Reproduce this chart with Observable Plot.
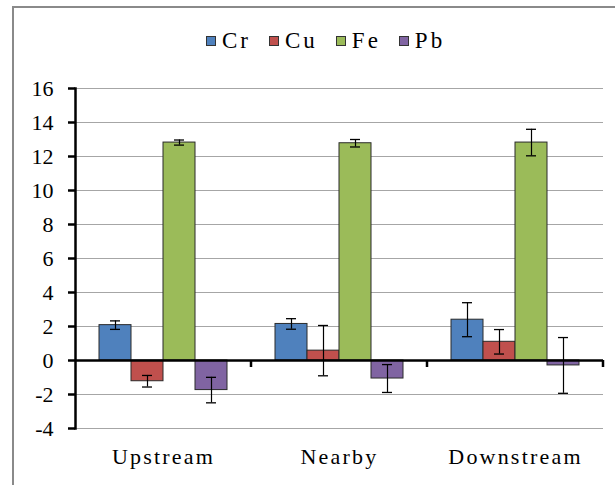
<!DOCTYPE html>
<html>
<head>
<meta charset="utf-8">
<script src="https://cdn.jsdelivr.net/npm/d3@7"></script>
<script src="https://cdn.jsdelivr.net/npm/@observablehq/plot@0.6"></script>
<style>
  html, body { margin: 0; padding: 0; background: #fff; overflow: hidden; }
  #figure { position: relative; width: 615px; height: 485px; overflow: hidden; font-family: "Liberation Serif", "Times New Roman", serif; }
  #border { position: absolute; left: 12px; top: 6px; width: 800px; height: 800px; border-top: 2px solid #8a8a8a; border-left: 2px solid #8a8a8a; box-sizing: border-box; }
  #legend { position: absolute; left: 206px; top: 29px; display: flex; align-items: center; font-size: 23px; line-height: 24px; letter-spacing: 3px; color: #000; z-index: 2; white-space: nowrap; }
  #legend .item { display: flex; align-items: center; margin-right: 18px; }
  #legend .swatch { width: 10px; height: 10px; border: 1px solid #333; box-sizing: border-box; margin-right: 6px; }
  #chart { position: absolute; left: 0; top: 0; z-index: 1; }
  #chart [aria-label="fx-axis tick label"] text { letter-spacing: 2.2px; }
</style>
</head>
<body>
<div id="figure">
  <div id="border"></div>
  <div id="legend"></div>
  <div id="chart"></div>
</div>
<script>
// Sampling sites and metals
const locations = ["Upstream", "Nearby", "Downstream"];
const metals = ["Cr", "Cu", "Fe", "Pb"];
const metalColors = ["#4f81bd", "#c0504d", "#9bbb59", "#8064a2"];

// Mean values per site (Upstream, Nearby, Downstream)
const crValues = [2.08, 2.15, 2.40];
const cuValues = [-1.22, 0.58, 1.10];
const feValues = [12.82, 12.78, 12.82];
const pbValues = [-1.74, -1.06, -0.29];

// Error-bar half widths per site
const crErrors = [0.25, 0.31, 1.00];
const cuErrors = [0.34, 1.48, 0.72];
const feErrors = [0.15, 0.22, 0.78];
const pbErrors = [0.75, 0.82, 1.64];

// Y axis ticks
const yTicks = [-4, -2, 0, 2, 4, 6, 8, 10, 12, 14, 16];

const seriesValues = [crValues, cuValues, feValues, pbValues];
const seriesErrors = [crErrors, cuErrors, feErrors, pbErrors];

const rows = locations.flatMap((loc, i) =>
  metals.map((metal, j) => ({
    loc,
    metal,
    value: seriesValues[j][i],
    err: seriesErrors[j][i]
  }))
);

// Legend
const legend = d3.select("#legend");
metals.forEach((m, j) => {
  const item = legend.append("div").attr("class", "item");
  item.append("div").attr("class", "swatch").style("background", metalColors[j]);
  item.append("span").text(m);
});

// Small downward tick at the right edge of each site group, on the zero line
const groupTick = (index, scales, values, dimensions) => {
  const x = dimensions.width - dimensions.marginRight;
  const y = scales.y(0);
  return d3.create("svg:line")
    .attr("x1", x).attr("x2", x)
    .attr("y1", y).attr("y2", y + 7)
    .attr("stroke", "black")
    .attr("stroke-width", 2.5)
    .node();
};

const chart = Plot.plot({
  width: 615,
  height: 485,
  marginTop: 88,
  marginBottom: 57,
  marginLeft: 75,
  marginRight: 12,
  style: { fontFamily: "'Liberation Serif', 'Times New Roman', serif", fontSize: "22px", color: "black", background: "transparent" },
  fx: { domain: locations, padding: 0, axis: null, label: null },
  x: { domain: metals, paddingInner: 0, paddingOuter: 0.75, axis: null, label: null },
  y: { domain: [-4, 16], axis: null, label: null },
  color: { domain: metals, range: metalColors },
  marks: [
    Plot.gridY(yTicks, { stroke: "#a6a6a6", strokeOpacity: 1, strokeWidth: 1.2 }),
    Plot.barY(rows, { fx: "loc", x: "metal", y: "value", fill: "metal", stroke: "#2a2a2a", strokeWidth: 1 }),
    Plot.ruleY([0], { stroke: "black", strokeWidth: 2.5 }),
    groupTick,
    Plot.frame({ anchor: "left", facetAnchor: "left", stroke: "black", strokeWidth: 2.5 }),
    Plot.axisY({ ticks: yTicks, tickSize: 7, strokeWidth: 2.5, tickFormat: () => "", label: null }),
    Plot.text(yTicks, { y: d => d, text: d => String(d), frameAnchor: "left", textAnchor: "end", dx: -22, fontSize: 22, facetAnchor: "left" }),
    Plot.axisFx({ anchor: "bottom", tickSize: 0, tickPadding: 20, fontSize: 22, label: null }),
    Plot.ruleX(rows, { fx: "loc", x: "metal", y1: d => d.value - d.err, y2: d => d.value + d.err, stroke: "black", strokeWidth: 1.2 }),
    Plot.tickY(rows, { fx: "loc", x: "metal", y: d => d.value + d.err, insetLeft: 11, insetRight: 11, stroke: "black", strokeWidth: 1.3 }),
    Plot.tickY(rows, { fx: "loc", x: "metal", y: d => d.value - d.err, insetLeft: 11, insetRight: 11, stroke: "black", strokeWidth: 1.3 })
  ]
});

document.getElementById("chart").append(chart);
</script>
</body>
</html>
